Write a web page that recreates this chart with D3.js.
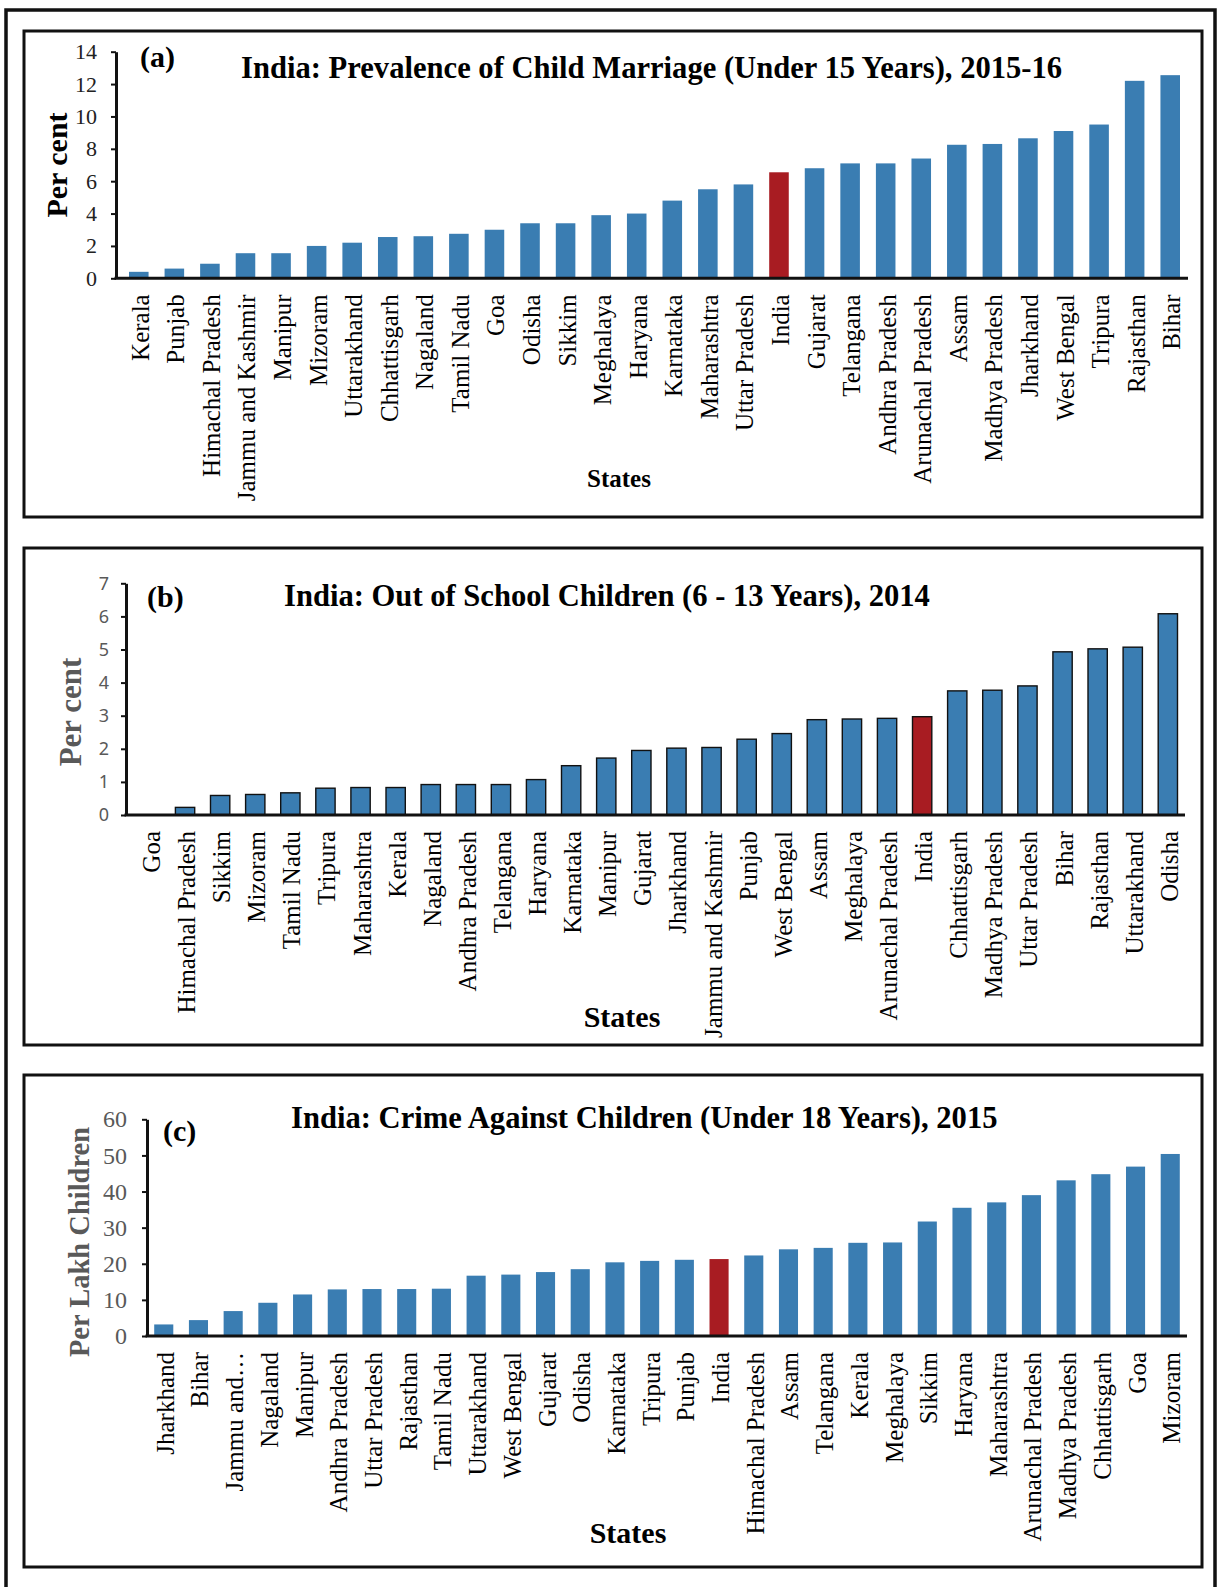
<!DOCTYPE html>
<html>
<head>
<meta charset="utf-8">
<script src="https://cdn.jsdelivr.net/npm/d3@7"></script>
<style>
  body { margin: 0; background: #fff; }
  svg { display: block; }
</style>
</head>
<body>
<svg id="fig" width="1218" height="1587"></svg>
<script>
// (a) Prevalence of child marriage (under 15 years), 2015-16, per cent
const marriageStates = ["Kerala", "Punjab", "Himachal Pradesh", "Jammu and Kashmir", "Manipur", "Mizoram",
  "Uttarakhand", "Chhattisgarh", "Nagaland", "Tamil Nadu", "Goa", "Odisha", "Sikkim", "Meghalaya",
  "Haryana", "Karnataka", "Maharashtra", "Uttar Pradesh", "India", "Gujarat", "Telangana",
  "Andhra Pradesh", "Arunachal Pradesh", "Assam", "Madhya Pradesh", "Jharkhand", "West Bengal",
  "Tripura", "Rajasthan", "Bihar"];
const marriageValues = [0.4, 0.6, 0.9, 1.55, 1.55, 2.0, 2.2, 2.55, 2.6, 2.75, 3.0, 3.4, 3.4, 3.9,
  4.0, 4.8, 5.5, 5.8, 6.55, 6.8, 7.1, 7.1, 7.4, 8.25, 8.3, 8.65, 9.1, 9.5, 12.2, 12.55];
const marriageTicks = [0, 2, 4, 6, 8, 10, 12, 14];

// (b) Out of school children (6 - 13 years), 2014, per cent
const schoolStates = ["Goa", "Himachal Pradesh", "Sikkim", "Mizoram", "Tamil Nadu", "Tripura",
  "Maharashtra", "Kerala", "Nagaland", "Andhra Pradesh", "Telangana", "Haryana", "Karnataka",
  "Manipur", "Gujarat", "Jharkhand", "Jammu and Kashmir", "Punjab", "West Bengal", "Assam",
  "Meghalaya", "Arunachal Pradesh", "India", "Chhattisgarh", "Madhya Pradesh", "Uttar Pradesh",
  "Bihar", "Rajasthan", "Uttarakhand", "Odisha"];
const schoolValues = [0, 0.23, 0.59, 0.62, 0.67, 0.81, 0.83, 0.83, 0.92, 0.92, 0.92, 1.07, 1.49,
  1.72, 1.95, 2.02, 2.04, 2.29, 2.46, 2.88, 2.9, 2.92, 2.97, 3.75, 3.77, 3.9, 4.93, 5.02, 5.07, 6.08];
const schoolTicks = [0, 1, 2, 3, 4, 5, 6, 7];

// (c) Crime against children (under 18 years), 2015, per lakh children
const crimeStates = ["Jharkhand", "Bihar", "Jammu and\u2026", "Nagaland", "Manipur", "Andhra Pradesh",
  "Uttar Pradesh", "Rajasthan", "Tamil Nadu", "Uttarakhand", "West Bengal", "Gujarat", "Odisha",
  "Karnataka", "Tripura", "Punjab", "India", "Himachal Pradesh", "Assam", "Telangana", "Kerala",
  "Meghalaya", "Sikkim", "Haryana", "Maharashtra", "Arunachal Pradesh", "Madhya Pradesh",
  "Chhattisgarh", "Goa", "Mizoram"];
const crimeValues = [3.2, 4.4, 6.9, 9.2, 11.5, 12.9, 13.0, 13.0, 13.1, 16.7, 17.0, 17.7, 18.5,
  20.4, 20.8, 21.1, 21.3, 22.3, 24.0, 24.4, 25.8, 25.9, 31.7, 35.5, 37.0, 39.0, 43.1, 44.8, 46.9, 50.4];
const crimeTicks = [0, 10, 20, 30, 40, 50, 60];

const SERIF = "'Liberation Serif', 'Times New Roman', Times, serif";
const SANS = "'Noto Sans', 'Open Sans', 'Liberation Sans', sans-serif";
const BLUE = "#3a7db2";
const RED = "#a81c22";

const svg = d3.select("#fig");

// outer border around all three panels
svg.append("rect")
  .attr("x", 6).attr("y", 10).attr("width", 1209).attr("height", 1590)
  .attr("fill", "none").attr("stroke", "#111").attr("stroke-width", 3.5);

const panels = [
  {
    tag: "(a)", title: "India: Prevalence of Child Marriage (Under 15 Years), 2015-16",
    states: marriageStates, values: marriageValues, ticks: marriageTicks,
    frame: [24, 31, 1202, 517],
    axisX: 116, base: 278.3, top: 51.7, band: [121, 1188], axisEnd: 1188,
    tagPos: [140, 67], titlePos: [241, 78],
    yTitle: "Per cent", yTitleSize: 30, yTitleColor: "#000", yTitlePos: [67, 165],
    xTitleSize: 25, xTitlePos: [619, 487],
    tickFont: SERIF, tickSize: 22, tickColor: "#222", tickPad: 14,
    outline: false
  },
  {
    tag: "(b)", title: "India: Out of School Children (6 - 13 Years), 2014",
    states: schoolStates, values: schoolValues, ticks: schoolTicks,
    frame: [24, 548, 1202, 1045],
    axisX: 126, base: 815, top: 583.3, band: [132.4, 1185.4], axisEnd: 1185,
    tagPos: [147, 607], titlePos: [284, 606],
    yTitle: "Per cent", yTitleSize: 31, yTitleColor: "#595959", yTitlePos: [81, 712],
    xTitleSize: 30, xTitlePos: [622, 1027],
    tickFont: SANS, tickSize: 18, tickColor: "#595959", tickPad: 12,
    outline: true
  },
  {
    tag: "(c)", title: "India: Crime Against Children (Under 18 Years), 2015",
    states: crimeStates, values: crimeValues, ticks: crimeTicks,
    frame: [24, 1075, 1202, 1567],
    axisX: 147, base: 1336, top: 1119.3, band: [146.4, 1187.6], axisEnd: 1187,
    tagPos: [163, 1141], titlePos: [291, 1128],
    yTitle: "Per Lakh Children", yTitleSize: 28.5, yTitleColor: "#595959", yTitlePos: [89, 1242],
    xTitleSize: 30, xTitlePos: [628, 1543],
    tickFont: SERIF, tickSize: 24, tickColor: "#595959", tickPad: 15,
    outline: false
  }
];

panels.forEach(p => {
  const g = svg.append("g");
  const [fx0, fy0, fx1, fy1] = p.frame;

  // panel frame
  g.append("rect")
    .attr("x", fx0).attr("y", fy0).attr("width", fx1 - fx0).attr("height", fy1 - fy0)
    .attr("fill", "#fff").attr("stroke", "#111").attr("stroke-width", 3);

  const x = d3.scaleBand()
    .domain(p.states)
    .range(p.band)
    .paddingInner(0.45)
    .paddingOuter(0.225);

  const yMax = p.ticks[p.ticks.length - 1];
  const y = d3.scaleLinear().domain([0, yMax]).range([p.base, p.top]);

  // bars
  g.append("g").selectAll("rect")
    .data(p.states.map((s, i) => ({ state: s, value: p.values[i] })))
    .join("rect")
    .attr("x", d => x(d.state))
    .attr("width", x.bandwidth())
    .attr("y", d => y(d.value))
    .attr("height", d => y(0) - y(d.value))
    .attr("fill", d => d.state === "India" ? RED : BLUE)
    .attr("stroke", p.outline ? "#111" : "none")
    .attr("stroke-width", p.outline ? 1.4 : 0)
    .attr("display", d => d.value > 0 ? null : "none");

  // value axis
  const yAxis = d3.axisLeft(y)
    .tickValues(p.ticks)
    .tickSize(5)
    .tickSizeOuter(0)
    .tickPadding(p.tickPad)
    .tickFormat(d3.format("d"));
  const ya = g.append("g").attr("transform", `translate(${p.axisX},0)`).call(yAxis);
  ya.select(".domain").attr("stroke", "#111").attr("stroke-width", 3);
  ya.selectAll(".tick line").attr("stroke", "#111").attr("stroke-width", 2);
  ya.selectAll(".tick text")
    .attr("font-family", p.tickFont)
    .attr("font-size", p.tickSize)
    .attr("fill", p.tickColor);

  // category axis baseline
  g.append("line")
    .attr("x1", p.axisX - 1.5).attr("x2", p.axisEnd)
    .attr("y1", y(0)).attr("y2", y(0))
    .attr("stroke", "#111").attr("stroke-width", 3);

  // rotated category labels
  g.append("g").selectAll("text")
    .data(p.states)
    .join("text")
    .attr("transform", d => `translate(${x(d) + x.bandwidth() / 2},${y(0) + 16}) rotate(-90)`)
    .attr("dy", "0.4em")
    .attr("text-anchor", "end")
    .attr("font-family", SERIF)
    .attr("font-size", 25)
    .attr("fill", "#000")
    .text(d => d);

  // panel tag and title
  g.append("text")
    .attr("x", p.tagPos[0]).attr("y", p.tagPos[1])
    .attr("font-family", SERIF).attr("font-weight", "bold").attr("font-size", 30)
    .attr("fill", "#000")
    .text(p.tag);
  g.append("text")
    .attr("x", p.titlePos[0]).attr("y", p.titlePos[1])
    .attr("font-family", SERIF).attr("font-weight", "bold").attr("font-size", 30.6)
    .attr("fill", "#000")
    .text(p.title);

  // axis titles
  g.append("text")
    .attr("transform", `translate(${p.yTitlePos[0]},${p.yTitlePos[1]}) rotate(-90)`)
    .attr("text-anchor", "middle")
    .attr("font-family", SERIF).attr("font-weight", "bold").attr("font-size", p.yTitleSize)
    .attr("fill", p.yTitleColor)
    .text(p.yTitle);
  g.append("text")
    .attr("x", p.xTitlePos[0]).attr("y", p.xTitlePos[1])
    .attr("text-anchor", "middle")
    .attr("font-family", SERIF).attr("font-weight", "bold").attr("font-size", p.xTitleSize)
    .attr("fill", "#000")
    .text("States");
});
</script>
</body>
</html>
